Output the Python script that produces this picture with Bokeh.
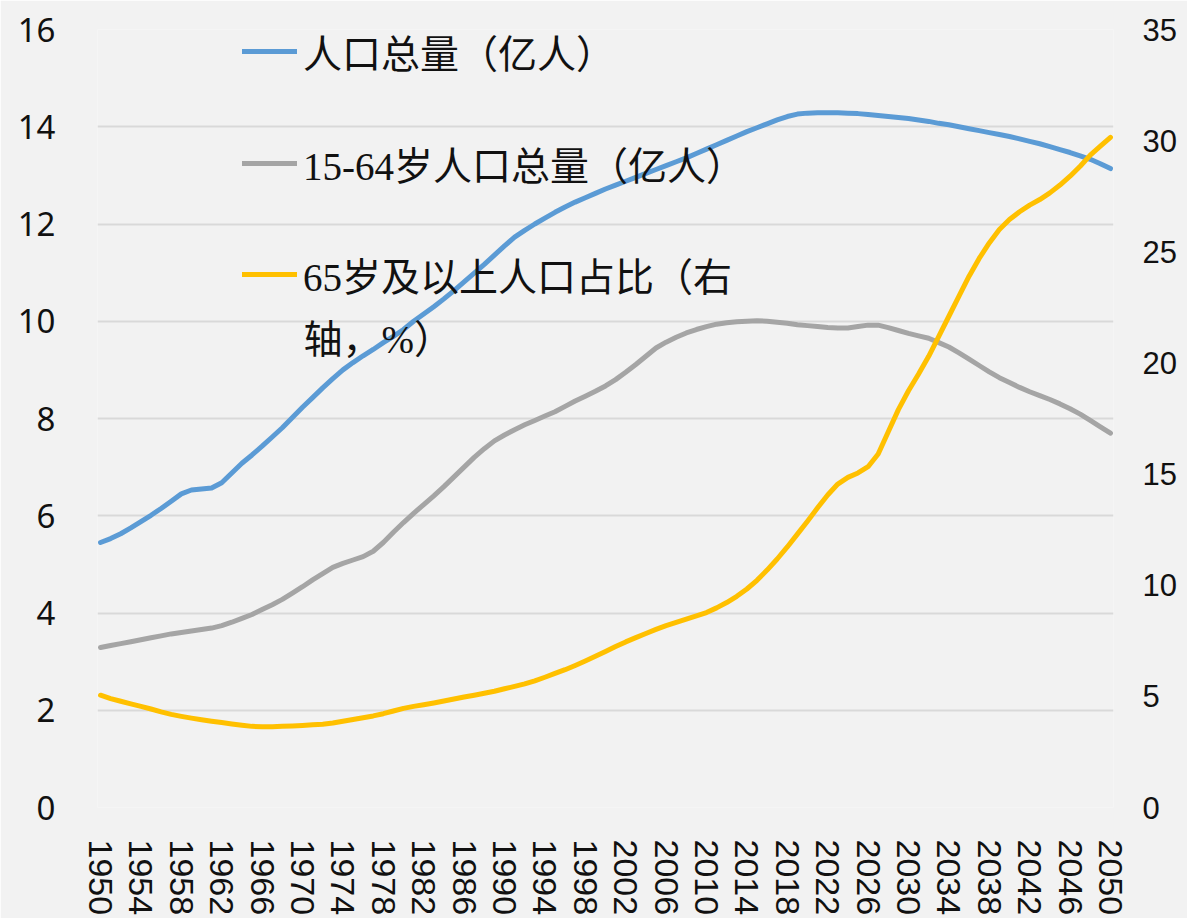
import numpy as np
from bokeh.plotting import figure
from bokeh.models import Range1d, LinearAxis, FixedTicker, Legend, LegendItem, Label
from bokeh.embed import file_html
from bokeh.resources import INLINE

# ---------------- data ----------------
years = list(range(1950, 2051))

total_pop = [
    5.45, 5.53, 5.63, 5.75, 5.88, 6.01, 6.15, 6.30, 6.45, 6.53,
    6.55, 6.57, 6.68, 6.88, 7.08, 7.25, 7.43, 7.62, 7.81, 8.02,
    8.23, 8.43, 8.63, 8.82, 9.00, 9.15, 9.29, 9.42, 9.56, 9.69,
    9.83, 10.00, 10.15, 10.30, 10.46, 10.63, 10.81, 10.99, 11.17, 11.36,
    11.55, 11.73, 11.87, 12.00, 12.12, 12.24, 12.35, 12.45, 12.54, 12.63,
    12.72, 12.80, 12.88, 12.96, 13.04, 13.12, 13.20, 13.28, 13.36, 13.45,
    13.54, 13.63, 13.72, 13.81, 13.90, 13.98, 14.06, 14.14, 14.21, 14.26,
    14.28, 14.29, 14.29, 14.29, 14.28, 14.27, 14.25, 14.23, 14.21, 14.19,
    14.17, 14.14, 14.11, 14.07, 14.04, 14.00, 13.96, 13.92, 13.88, 13.84,
    13.80, 13.75, 13.70, 13.65, 13.59, 13.53, 13.47, 13.40, 13.33, 13.24,
    13.14,
]

working_pop = [
    3.29, 3.33, 3.37, 3.41, 3.45, 3.49, 3.53, 3.57, 3.60, 3.63,
    3.66, 3.69, 3.74, 3.81, 3.89, 3.97, 4.07, 4.17, 4.28, 4.41,
    4.54, 4.68, 4.81, 4.94, 5.02, 5.09, 5.16, 5.27, 5.45, 5.66,
    5.86, 6.05, 6.23, 6.41, 6.60, 6.80, 7.00, 7.20, 7.38, 7.54,
    7.66, 7.77, 7.87, 7.96, 8.05, 8.14, 8.25, 8.36, 8.46, 8.56,
    8.67, 8.80, 8.95, 9.11, 9.28, 9.45, 9.57, 9.67, 9.76, 9.83,
    9.89, 9.94, 9.97, 9.99, 10.00, 10.01, 10.00, 9.98, 9.96, 9.93,
    9.91, 9.89, 9.87, 9.86, 9.86, 9.89, 9.92, 9.92, 9.87, 9.81,
    9.75, 9.70, 9.65, 9.56, 9.47, 9.35, 9.22, 9.09, 8.96, 8.84,
    8.74, 8.64, 8.55, 8.47, 8.39, 8.30, 8.20, 8.09, 7.96, 7.83,
    7.70,
]

elderly_share = [
    5.05, 4.90, 4.78, 4.66, 4.55, 4.43, 4.30, 4.19, 4.10, 4.02,
    3.95, 3.88, 3.82, 3.76, 3.70, 3.65, 3.63, 3.63, 3.65, 3.67,
    3.69, 3.72, 3.75, 3.80, 3.88, 3.96, 4.04, 4.12, 4.22, 4.34,
    4.46, 4.55, 4.62, 4.70, 4.79, 4.88, 4.97, 5.05, 5.14, 5.23,
    5.34, 5.45, 5.56, 5.70, 5.86, 6.03, 6.20, 6.39, 6.59, 6.80,
    7.02, 7.24, 7.45, 7.64, 7.83, 8.01, 8.18, 8.33, 8.48, 8.62,
    8.77, 8.98, 9.22, 9.50, 9.83, 10.22, 10.68, 11.18, 11.72, 12.30,
    12.88, 13.48, 14.06, 14.55, 14.85, 15.05, 15.33, 15.90, 16.90, 17.90,
    18.75, 19.50, 20.30, 21.20, 22.10, 23.00, 23.90, 24.70, 25.40, 26.00,
    26.45, 26.80, 27.10, 27.35, 27.65, 28.00, 28.40, 28.85, 29.35, 29.75,
    30.15,
]

x_ticks = years[::4]
left_ticks = [0, 2, 4, 6, 8, 10, 12, 14, 16]
right_ticks = [0, 5, 10, 15, 20, 25, 30, 35]
legend_labels = ["人口总量（亿人）", "15-64岁人口总量（亿人）", "65岁及以上人口占比（右"]
legend_label_cont = "轴，%）"

colors = ["#5B9BD5", "#A5A5A5", "#FFC000"]
BG = "#F2F2F2"
LEGEND_FONT = "Liberation Serif, Noto Sans CJK SC"
LEGEND_SIZE = "39px"
TICK_FONT = "Noto Sans"

# ---------------- figure ----------------
p = figure(
    width=1187, height=918,
    output_backend="svg", toolbar_location=None,
    x_range=Range1d(1949.7, 2050.3), y_range=Range1d(0, 16),
    min_border_left=97, min_border_right=74, min_border_top=29, min_border_bottom=110,
    background_fill_color=BG, border_fill_color=BG, outline_line_color=None,
)
p.extra_y_ranges = {"right": Range1d(0, 35)}

r1 = p.line(years, total_pop, line_color=colors[0], line_width=5,
            line_cap="round", line_join="round")
r2 = p.line(years, working_pop, line_color=colors[1], line_width=5,
            line_cap="round", line_join="round")
r3 = p.line(years, elderly_share, y_range_name="right", line_color=colors[2],
            line_width=5, line_cap="round", line_join="round")

# axes
right_axis = LinearAxis(y_range_name="right", ticker=FixedTicker(ticks=right_ticks))
p.add_layout(right_axis, "right")

p.xaxis.ticker = FixedTicker(ticks=x_ticks)
p.xaxis.major_label_orientation = "vertical"
p.xaxis.major_label_text_font = "Liberation Sans"
p.xaxis.major_label_text_font_size = "34px"
p.xaxis.major_label_standoff = 32

p.yaxis[0].ticker = FixedTicker(ticks=left_ticks)
p.yaxis[0].major_label_text_font = TICK_FONT
p.yaxis[0].major_label_text_font_size = "33px"
p.yaxis[0].major_label_standoff = 42

right_axis.major_label_text_font = "Liberation Sans"
right_axis.major_label_text_font_size = "31px"
right_axis.major_label_standoff = 29

for ax in [p.xaxis[0], p.yaxis[0], right_axis]:
    ax.axis_line_color = None
    ax.major_tick_line_color = None
    ax.minor_tick_line_color = None
    ax.major_tick_in = 0
    ax.major_tick_out = 0
    ax.major_label_text_color = "#111111"

p.xgrid.visible = False
p.ygrid.ticker = FixedTicker(ticks=left_ticks)
p.ygrid.grid_line_color = "#D9D9D9"
p.ygrid.grid_line_width = 2

# legend: one entry per Legend so that each row sits exactly where the reference has it
ITEM_H = 60
row_bottoms = [726, 614, 503]   # screen px above the frame bottom
for lab, rend, yb in zip(legend_labels, [r1, r2, r3], row_bottoms):
    lg = Legend(
        items=[LegendItem(label=lab, renderers=[rend])],
        location=(145, yb),
        orientation="vertical",
        background_fill_alpha=0, border_line_color=None,
        glyph_width=55, glyph_height=ITEM_H, label_height=ITEM_H, label_standoff=6,
        padding=0, margin=0, spacing=0,
        label_text_font=LEGEND_FONT, label_text_font_size=LEGEND_SIZE,
        label_text_color="#111111",
    )
    p.add_layout(lg)

p.add_layout(Label(
    x=206, y=468, x_units="screen", y_units="screen",
    text=legend_label_cont, text_font=LEGEND_FONT, text_font_size=LEGEND_SIZE,
    text_baseline="middle", text_align="left", text_color="#111111",
))

open("out.html", "w").write(file_html(p, INLINE))
